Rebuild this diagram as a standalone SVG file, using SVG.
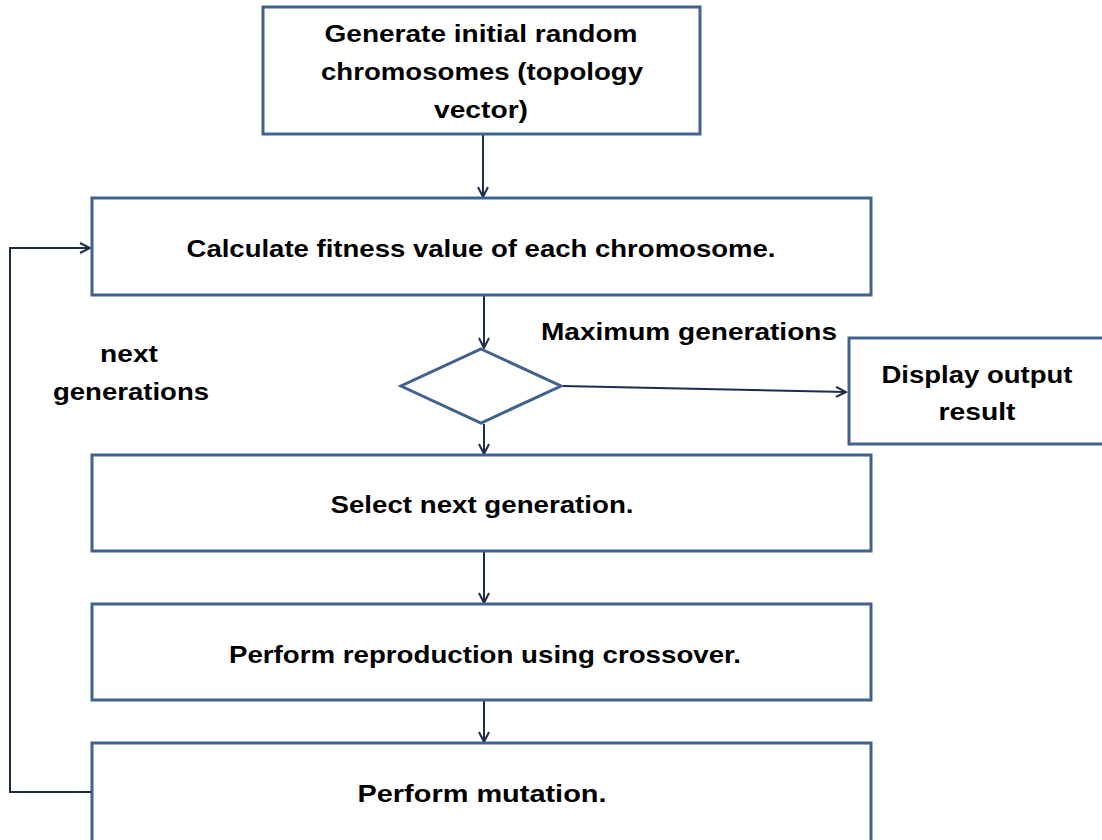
<svg xmlns="http://www.w3.org/2000/svg" width="1102" height="840" viewBox="0 0 1102 840">
<style>
.box{fill:#fff;stroke:#41628f;stroke-width:3}
.t{font-family:"Liberation Sans",Arial,sans-serif;font-weight:bold;font-size:24px;fill:#000;text-anchor:middle}
.c{fill:none;stroke:#1c2e4a;stroke-width:2}
</style>
<defs>
<marker id="ah" viewBox="0 0 12 12" refX="11" refY="6" markerWidth="12" markerHeight="12" markerUnits="userSpaceOnUse" orient="auto">
<path d="M1,1 L11,6 L1,11" fill="none" stroke="#1c2e4a" stroke-width="2"/>
</marker>
</defs>
<rect width="1102" height="840" fill="#fff"/>
<g id="connectors">
<line class="c" x1="483" y1="135" x2="483" y2="197" marker-end="url(#ah)"/>
<line class="c" x1="484" y1="296" x2="484" y2="348" marker-end="url(#ah)"/>
<line class="c" x1="562" y1="386" x2="846" y2="392" marker-end="url(#ah)"/>
<line class="c" x1="484" y1="424" x2="484" y2="454" marker-end="url(#ah)"/>
<line class="c" x1="484" y1="552" x2="484" y2="603" marker-end="url(#ah)"/>
<line class="c" x1="484" y1="701" x2="484" y2="742" marker-end="url(#ah)"/>
<polyline class="c" points="92,792 10,792 10,248 90,248" marker-end="url(#ah)"/>
</g>
<g id="n1">
<rect class="box" x="263" y="7" width="437" height="127"/>
<text class="t" x="481" y="42" textLength="313" lengthAdjust="spacingAndGlyphs">Generate initial random</text>
<text class="t" x="482" y="80" textLength="322" lengthAdjust="spacingAndGlyphs">chromosomes (topology</text>
<text class="t" x="481" y="118" textLength="94" lengthAdjust="spacingAndGlyphs">vector)</text>
</g>
<g id="n2">
<rect class="box" x="92" y="198" width="779" height="97"/>
<text class="t" x="481" y="257" textLength="589" lengthAdjust="spacingAndGlyphs">Calculate fitness value of each chromosome.</text>
</g>
<g id="n3">
<polygon class="box" points="481,349 561,386 481,423 401,386"/>
</g>
<g id="n4">
<rect class="box" x="849" y="338" width="256" height="106"/>
<text class="t" x="977" y="383" textLength="191" lengthAdjust="spacingAndGlyphs">Display output</text>
<text class="t" x="977" y="420" textLength="77" lengthAdjust="spacingAndGlyphs">result</text>
</g>
<g id="n5">
<rect class="box" x="92" y="455" width="779" height="96"/>
<text class="t" x="482" y="513" textLength="303" lengthAdjust="spacingAndGlyphs">Select next generation.</text>
</g>
<g id="n6">
<rect class="box" x="92" y="604" width="779" height="96"/>
<text class="t" x="485" y="663" textLength="512" lengthAdjust="spacingAndGlyphs">Perform reproduction using crossover.</text>
</g>
<g id="n7">
<rect class="box" x="92" y="743" width="779" height="100"/>
<text class="t" x="482" y="802" textLength="249" lengthAdjust="spacingAndGlyphs">Perform mutation.</text>
</g>
<g id="labels">
<text class="t" x="689" y="340" textLength="296" lengthAdjust="spacingAndGlyphs">Maximum generations</text>
<text class="t" x="129" y="362" textLength="58" lengthAdjust="spacingAndGlyphs">next</text>
<text class="t" x="131" y="400" textLength="156" lengthAdjust="spacingAndGlyphs">generations</text>
</g>
</svg>
